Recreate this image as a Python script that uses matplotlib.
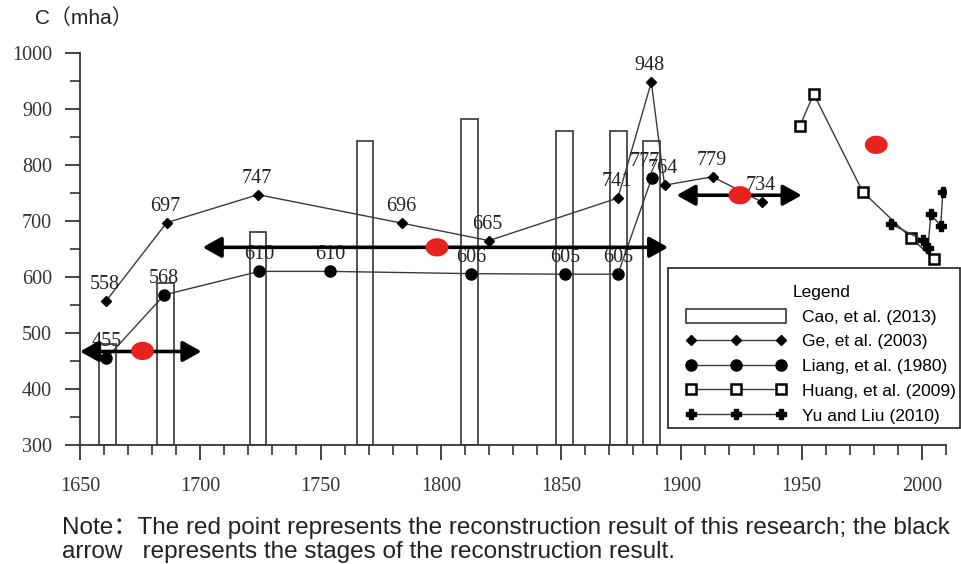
import numpy as np
import matplotlib
matplotlib.use("Agg")
import matplotlib.pyplot as plt
from matplotlib.ticker import MultipleLocator
from matplotlib.patches import Patch, Rectangle
from matplotlib.lines import Line2D

# ---------------- data ----------------
cao_years = [1661.5, 1685.5, 1724, 1768.5, 1812, 1851.5, 1874, 1887.5]
cao_vals = [480, 590, 680, 843, 882, 861, 861, 843]

ge_years = [1661, 1686, 1724, 1784, 1820, 1873.6, 1887.5, 1893, 1913, 1933.5]
ge_vals = [558, 697, 747, 696, 665, 741, 948, 764, 779, 734]

liang_years = [1661, 1685, 1724.5, 1754, 1812.5, 1851.5, 1873.6, 1887.7]
liang_vals = [455, 568, 610, 610, 606, 605, 605, 777]

huang_years = [1949.3, 1955, 1975.4, 1995.4, 2005]
huang_vals = [870, 927, 752, 670, 632]

yu_years = [1987, 2000.3, 2002.5, 2003.7, 2007.8, 2008.7]
yu_vals = [695, 666, 652, 712, 691, 752]

red_years = [1676, 1798.4, 1924.3, 1981]
red_vals = [468, 653, 746, 836]

arrow_starts = [1650, 1701, 1898]
arrow_ends = [1700.5, 1894.5, 1950]
arrow_vals = [467, 653, 746]

xticks = [1650, 1700, 1750, 1800, 1850, 1900, 1950, 2000]
yticks = [300, 400, 500, 600, 700, 800, 900, 1000]

legend_labels = ["Cao, et al. (2013)", "Ge, et al. (2003)", "Liang, et al. (1980)",
                 "Huang, et al. (2009)", "Yu and Liu (2010)"]

# ---------------- figure ----------------
W, H = 961, 564
fig = plt.figure(figsize=(W / 100, H / 100), dpi=100)
ax = fig.add_axes([80 / W, 1 - 445 / H, (946 - 80) / W, (445 - 53) / H])

serif = "Liberation Serif"
sans = ["Liberation Sans", "Noto Sans CJK SC"]
line_col = "#3a3a3a"
num_fs = 14.5

# bars (Cao et al.)
ax.bar(cao_years, [v - 300 for v in cao_vals], bottom=300, width=7,
       fill=False, edgecolor="#444444", linewidth=1.3, zorder=2)

ge_style = dict(color=line_col, lw=1.0, marker="D", ms=5.5, mfc="black", mec="black")
liang_style = dict(color=line_col, lw=1.0, marker="o", ms=8, mfc="black", mec="black")
huang_style = dict(color=line_col, lw=1.0, marker="s", ms=7, mfc="white", mec="black", mew=1.8)
yu_style = dict(color=line_col, lw=1.0, marker="P", ms=7.5, mfc="black", mec="black")

ax.plot(ge_years, ge_vals, zorder=4, **ge_style)
ax.plot(liang_years, liang_vals, zorder=4, **liang_style)
ax.plot(huang_years, huang_vals, zorder=4, **huang_style)
ax.plot(yu_years, yu_vals, zorder=4, **yu_style)

# value labels
for x, v in zip(ge_years, ge_vals):
    ax.annotate(str(v), (x, v), xytext=(-1, 5), textcoords="offset points",
                ha="center", va="bottom", fontsize=num_fs, family=serif,
                color="#222222", zorder=5)
for x, v in zip(liang_years, liang_vals):
    dx = -5 if v == 777 else 0
    ax.annotate(str(v), (x, v), xytext=(dx, 5), textcoords="offset points",
                ha="center", va="bottom", fontsize=num_fs, family=serif,
                color="#222222", zorder=5)

# arrows
for s, e, v in zip(arrow_starts, arrow_ends, arrow_vals):
    ax.annotate("", xy=(s, v), xytext=(e, v),
                arrowprops=dict(arrowstyle="<|-|>,head_length=0.75,head_width=0.42",
                                color="black", lw=2.6, shrinkA=0, shrinkB=0,
                                mutation_scale=15),
                zorder=6)

# red points (ellipses)
t = np.linspace(0, 2 * np.pi, 60)
ell = np.column_stack([np.cos(t), 0.8 * np.sin(t)])
ax.scatter(red_years, red_vals, marker=ell, s=270, color="#e8221c",
           edgecolors="none", zorder=7)

# axes styling
ax.set_xlim(1650, 2010)
ax.set_ylim(300, 1000)
for sp in ["top", "right"]:
    ax.spines[sp].set_visible(False)
for sp in ["left", "bottom"]:
    ax.spines[sp].set_linewidth(1.3)
    ax.spines[sp].set_color("#333333")
ax.set_xticks(xticks)
ax.set_yticks(yticks)
ax.xaxis.set_minor_locator(MultipleLocator(10))
ax.yaxis.set_minor_locator(MultipleLocator(50))
ax.tick_params(which="major", length=11, width=1.3, color="#333333",
               labelsize=num_fs)
ax.tick_params(axis="x", which="major", pad=12)
ax.tick_params(axis="y", which="major", pad=9)
ax.tick_params(which="minor", length=7, width=1.2, color="#333333")
for lab in ax.get_xticklabels() + ax.get_yticklabels():
    lab.set_family(serif)
    lab.set_color("#333333")

# y label
fig.text(35 / W, 1 - 18 / H, "C（mha）", family=sans, fontsize=15,
         ha="left", va="center", color="#222222")

# legend (frame drawn separately)
handles = [
    Patch(facecolor="white", edgecolor="#444444", linewidth=1.3),
    Line2D([], [], **ge_style),
    Line2D([], [], **liang_style),
    Line2D([], [], **huang_style),
    Line2D([], [], **yu_style),
]
fig.patches.append(Rectangle((668 / W, 1 - 428 / H), (960 - 668) / W, (428 - 268) / H,
                             transform=fig.transFigure, facecolor="white",
                             edgecolor="#333333", linewidth=1.3, zorder=8))
leg = fig.legend(handles, legend_labels, title="Legend", loc="upper left",
                 bbox_to_anchor=(686 / W, 1 - 285 / H), borderaxespad=0,
                 numpoints=3, handlelength=5.75, handleheight=0.9,
                 handletextpad=0.95, labelspacing=0.49, borderpad=0,
                 frameon=False,
                 prop={"family": "Liberation Sans", "size": 12.5})
leg.set_zorder(9)
leg.get_title().set_fontsize(12.5)
leg.get_title().set_family("Liberation Sans")

# note
fig.text(62 / W, 1 - 528 / H,
         "Note：The red point represents the reconstruction result of this research; the black",
         family=sans, fontsize=17.5, ha="left", va="center", color="#222222")
fig.text(62 / W, 1 - 552 / H,
         "arrow   represents the stages of the reconstruction result.",
         family=sans, fontsize=17.5, ha="left", va="center", color="#222222")

fig.savefig("out.png", dpi=100)
